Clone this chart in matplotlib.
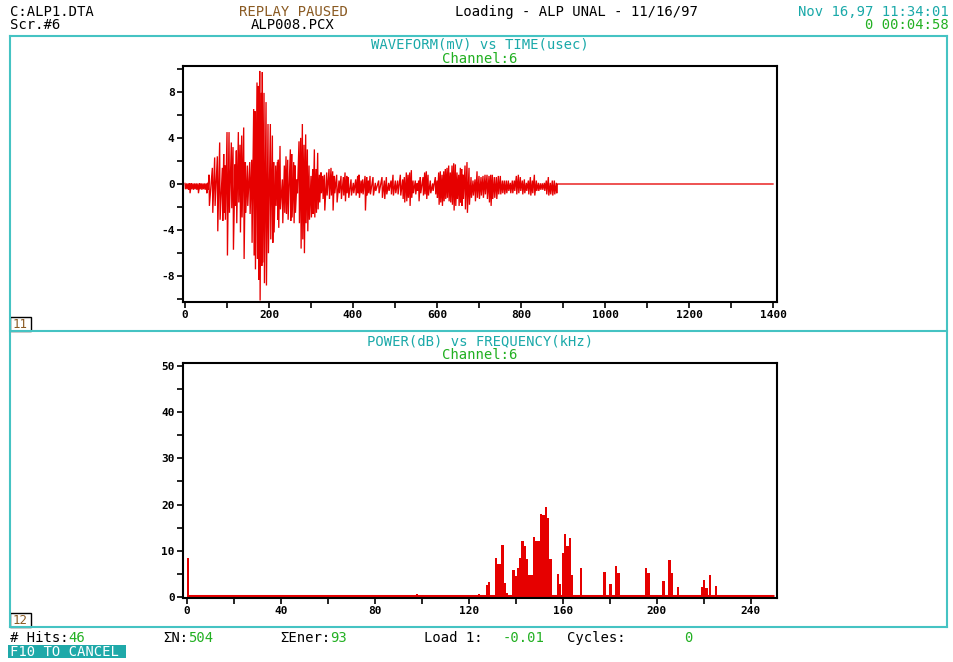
import matplotlib
matplotlib.use("Agg")
import matplotlib.pyplot as plt
import numpy as np
from matplotlib.lines import Line2D
from matplotlib.patches import Rectangle
from matplotlib.ticker import MultipleLocator

MONO = "DejaVu Sans Mono"
RED = "#e60000"
TEAL = "#1aa9a9"
FRAME = "#45c3c3"
GREEN = "#22b022"
BROWN = "#8a5a22"

# ---- waveform: sample time (usec), upper and lower excursion (mV) ----
wave_t = [0, 4, 8, 11, 15, 19, 23, 27, 31, 35, 39, 43, 47, 51, 54,
          57.1, 65.1, 70.6, 77.0, 82.5, 88.9, 92.1, 95.2, 100.0, 104.8,
          110.3, 114.3, 119.1, 122.2, 127.0, 131.0, 134.9, 139.7, 143.7, 148.4,
          154.0, 158.7, 163.5, 166.7, 171.4, 174.6, 177.8, 181.8, 184.1, 188.1,
          192.9, 197.6, 203.2, 208.0, 211.1, 215.9, 219.9,
          222.2, 226.2, 231.8, 236.5, 240.5, 244.5, 250.8, 254.0, 258.7, 261.9,
          266.7, 271.4, 275.4, 279.4, 283.3, 287.3, 291.3, 295.3, 300.0, 304.0,
          308.0, 311.9, 315.9, 319.9, 323.8, 327.8, 331.8, 337.3, 342.9, 347.6,
          351.6, 355.6, 361.1, 366.7, 371.4, 377.0, 381.0, 385.0, 388.9, 395.3,
          400.8, 406.4, 411.1, 414.3, 419.1, 423.0, 428.6, 432.5, 436.5,
          440.5, 447.6, 453.2, 461.1, 469.0, 474.6, 479.4, 484.9, 490.5, 495.2,
          500.8, 506.3, 512.7, 518.3, 522.2, 527.0, 530.9, 534.9, 538.9, 542.9,
          548.4, 552.4, 556.3, 560.3, 566.7, 570.6, 574.6, 578.6, 584.1, 589.7,
          596.0, 600.0, 604.0, 607.9, 611.9, 615.9, 619.8, 623.8, 627.8, 631.7,
          635.7, 639.7, 643.7, 647.6, 651.6, 655.6,
          658.7, 661.9, 666.7, 671.4, 676.2, 681.0, 685.7, 690.5, 695.3, 700.0,
          704.8, 709.5, 714.3, 719.1, 723.8, 727.8, 731.7, 736.5, 741.3, 746.0,
          750.8, 755.6, 760.3, 765.1, 769.9, 774.6, 779.4, 784.1, 788.9, 793.7,
          798.4, 803.2, 808.0, 812.7, 817.5, 822.3, 827.0, 831.8, 836.5, 841.3,
          846.1, 850.8, 855.6, 860.3, 865.1, 869.8, 874.6, 879.4, 884.1]
wave_hi = [0.05, 0.05, 0.05, 0.05, 0.05, 0.05, 0.05, 0.05, 0.05, 0.05, 0.05, 0.05, 0.05, 0.05, 0.1,
           0.8, 1.4, 2.3, 2.4, 3.6, 1.4, 2.6, 1.6, 4.5, 4.5,
           3.6, 3.2, 1.7, 2.9, 4.5, 3.4, 4.2, 4.9, 1.9, 1.6,
           1.9, 2.1, 6.5, 6.3, 8.8, 8.5, 9.8, 7.9, 9.7, 7.9,
           7.1, 5.2, 5.2, 4.2, 1.9, 1.6, 1.9,
           2.1, 3.3, 0.4, 1.6, 2.4, 2.1, 3.0, 2.6, 1.9, 1.6,
           0.4, 3.7, 4.0, 5.2, 3.4, 4.3, 3.0, 1.6, 0.7, 1.3,
           3.0, 1.3, 2.7, 0.8, 1.0, 0.7, 0.8, 1.0, 1.3, 1.4,
           1.1, 0.7, 0.8, 0.3, 0.7, 0.6, 1.0, 0.7, 0.6, 0.4,
           0.1, 0.4, 0.7, 0.8, 0.3, 0.4, 0.7, 0.6, 0.3,
           0.7, 0.6, 0.1, 0.3, 0.6, 0.3, 0.6, 0.1, 0.3, 0.8,
           0.3, 0.3, 0.8, 0.4, 0.6, 1.0, 0.8, 1.0, 1.2, 0.3,
           0.3, 0.05, 0.3, 0.6, 0.6, 1.0, 1.1, 0.8, 0.3, 0.05,
           0.6, 0.3, 1.0, 1.1, 0.8, 1.1, 1.3, 1.4, 1.6, 1.0,
           1.6, 1.8, 1.7, 1.0, 0.8, 1.4,
           1.3, 0.8, 1.6, 1.9, 1.4, 0.6, 0.3, 0.4, 1.1, 0.7,
           0.6, 0.7, 0.8, 0.8, 0.7, 0.8, 0.8, 0.6, 0.6, 0.7,
           0.7, 0.3, 0.3, 0.3, 0.3, 0.1, 0.3, 0.3, 0.7, 0.8,
           0.6, 0.3, 0.4, 0.1, 0.3, 0.6, 0.3, 0.8, 0.3, 0.1,
           0.06, 0.06, 0.1, 0.3, 0.6, 0.1, 0.3, 0.3, 0.1]
wave_lo = [-0.45, -0.45, -0.5, -0.8, -0.45, -0.5, -0.45, -0.5, -0.8, -0.45, -0.5, -0.45, -0.5, -0.8, -0.5,
           -1.9, -2.5, -1.9, -4.1, -3.1, -3.2, -2.5, -3.1, -6.2, -2.5,
           -2.1, -5.7, -1.9, -3.4, -1.6, -4.2, -2.9, -6.5, -2.5, -1.9,
           -2.6, -5.1, -6.2, -7.4, -6.5, -8.3, -10.1, -7.1, -6.8, -8.6,
           -8.8, -6.0, -4.8, -5.1, -4.2, -1.9, -3.1,
           -3.8, -2.2, -3.4, -2.5, -2.6, -3.1, -3.2, -2.9, -3.4, -2.5,
           -0.8, -3.4, -5.6, -4.8, -6.0, -3.4, -4.1, -3.1, -2.9, -2.6,
           -2.9, -2.5, -2.2, -1.6, -0.8, -1.3, -2.3, -1.0, -1.3, -1.0,
           -2.3, -0.8, -1.6, -0.8, -1.3, -1.0, -1.5, -0.8, -1.2, -1.0,
           -0.8, -1.0, -0.8, -1.2, -0.8, -0.9, -2.3, -1.0, -0.8,
           -0.9, -1.0, -0.6, -0.8, -1.2, -1.3, -0.9, -0.6, -0.9, -1.0,
           -0.8, -0.9, -1.0, -1.3, -1.6, -1.5, -1.2, -1.9, -1.2, -0.8,
           -0.9, -0.6, -1.5, -0.8, -1.0, -0.9, -1.3, -1.0, -0.8, -0.6,
           -0.9, -1.2, -1.8, -1.6, -1.9, -1.5, -1.3, -1.2, -1.5, -1.6,
           -1.8, -2.3, -1.9, -1.3, -1.9, -1.6,
           -1.9, -1.3, -2.2, -2.5, -1.8, -1.2, -1.0, -1.5, -1.2, -1.3,
           -1.0, -1.2, -0.9, -1.3, -1.6, -1.9, -1.3, -1.2, -1.3, -0.9,
           -0.9, -0.8, -0.9, -0.8, -0.6, -0.8, -0.8, -0.6, -0.9, -0.8,
           -0.6, -0.9, -0.8, -0.6, -0.9, -1.0, -0.8, -1.0, -0.6, -0.6,
           -0.5, -0.5, -0.6, -0.9, -1.0, -0.9, -1.0, -0.9, -0.8]
wave_end_t = 1400

# ---- power spectrum: bin left edge (kHz) and level (dB) ----
spec_f = [0.0, 97.5, 123.9, 125.2, 127.2, 128.2, 131.1, 132.0, 133.0, 133.9,
          134.7, 135.7, 136.6, 138.6, 139.6, 140.6, 141.5, 142.4, 143.4, 144.4,
          145.4, 146.4, 147.4, 148.4, 149.3, 150.3, 151.3, 152.3, 153.3, 154.3,
          157.4, 158.4, 159.5, 160.5, 161.5, 162.5, 163.5, 167.2, 177.3, 179.8,
          182.2, 183.2, 195.0, 196.0, 202.4, 205.0, 206.0, 208.5, 218.7, 219.7,
          220.7, 222.2, 224.8]
spec_db = [8.3, 0.5, 0.5, 0.4, 2.5, 3.1, 8.5, 7.0, 7.0, 11.2,
           2.9, 0.9, 0.4, 5.9, 4.5, 6.2, 8.3, 12.1, 10.9, 8.2,
           4.7, 4.7, 12.9, 12.1, 12.1, 17.9, 17.7, 19.4, 17.0, 8.2,
           4.9, 2.7, 9.4, 13.5, 10.9, 12.7, 4.7, 6.2, 5.4, 2.7,
           6.7, 5.1, 6.2, 5.1, 3.3, 8.0, 5.1, 2.0, 2.0, 3.6,
           1.8, 4.7, 2.3]
spec_end_f = 250

W, H = 954, 662
fig = plt.figure(figsize=(W / 100, H / 100), dpi=100)
fig.patch.set_facecolor("white")


def fx(x):
    return x / W


def fy(y):
    return 1 - y / H


def ftext(x, y, s, color="black", ha="left", size=10, **kw):
    fig.text(fx(x), fy(y), s, color=color, ha=ha, va="center",
             family=MONO, fontsize=size, **kw)


def add_axes(top, bottom, left=183, right=777):
    ax = fig.add_axes([fx(left), fy(bottom), (right - left) / W, (bottom - top) / H])
    for sp in ax.spines.values():
        sp.set_linewidth(1.5)
        sp.set_color("black")
    ax.tick_params(which="both", direction="out", length=4, width=1.2,
                   labelsize=8, pad=2)
    return ax


def label_ticks(ax, xt, yt):
    ax.set_xticks(xt)
    ax.set_xticklabels([str(v) for v in xt], family=MONO, fontsize=8, weight="bold")
    ax.set_yticks(yt)
    ax.set_yticklabels([str(v) for v in yt], family=MONO, fontsize=8, weight="bold")


# ---- header ----
ftext(10, 12, "C:ALP1.DTA")
ftext(10, 25, "Scr.#6")
ftext(293, 12, "REPLAY PAUSED", color=BROWN, ha="center")
ftext(293, 25, "ALP008.PCX", ha="center")
ftext(576, 12, "Loading - ALP UNAL - 11/16/97", ha="center")
ftext(949, 12, "Nov 16,97 11:34:01", color=TEAL, ha="right")
ftext(949, 25, "0 00:04:58", color=GREEN, ha="right")

# ---- panel frames ----
for (x0, y0, x1, y1) in [(10, 36, 947, 36), (10, 331, 947, 331), (10, 627, 947, 627),
                         (10, 36, 10, 627), (947, 36, 947, 627)]:
    fig.add_artist(Line2D([fx(x0), fx(x1)], [fy(y0), fy(y1)], color=FRAME,
                          lw=1.5, transform=fig.transFigure))

for label, ybot in [("11", 331), ("12", 627)]:
    fig.add_artist(Rectangle((fx(10), fy(ybot)), 21 / W, 14 / H, fill=False,
                             edgecolor="black", lw=1.0, transform=fig.transFigure))
    ftext(20.5, ybot - 6.5, label, color=BROWN, ha="center", size=9)

ftext(480, 44, "WAVEFORM(mV) vs TIME(usec)", color=TEAL, ha="center")
ftext(480, 59, "Channel:6", color=GREEN, ha="center")
ftext(480, 341, "POWER(dB) vs FREQUENCY(kHz)", color=TEAL, ha="center")
ftext(480, 355, "Channel:6", color=GREEN, ha="center")

# ---- waveform ----
ax1 = add_axes(66, 302)
xs, ys = [], []
for t, hi, lo in zip(wave_t, wave_hi, wave_lo):
    xs += [t, t + 1.0]
    ys += [hi, lo]
xs += [wave_t[-1] + 2.0, wave_end_t]
ys += [0.0, 0.0]
ax1.plot(xs, ys, color=RED, lw=0.95, solid_joinstyle="miter")
ax1.set_xlim(-4.8, 1409.5)
ax1.set_ylim(-10.23, 10.23)
ax1.xaxis.set_minor_locator(MultipleLocator(100))
ax1.yaxis.set_minor_locator(MultipleLocator(2))
label_ticks(ax1, list(range(0, 1401, 200)), [-8, -4, 0, 4, 8])

# ---- spectrum ----
ax2 = add_axes(363, 598)
ax2.plot([0, spec_end_f], [0.2, 0.2], color=RED, lw=2.2, solid_capstyle="butt")
ax2.bar(spec_f, spec_db, width=1.0, align="edge", color=RED, edgecolor="none")
ax2.set_xlim(-1.6, 251.2)
ax2.set_ylim(-0.28, 50.7)
ax2.xaxis.set_minor_locator(MultipleLocator(20))
ax2.yaxis.set_minor_locator(MultipleLocator(5))
label_ticks(ax2, list(range(0, 241, 40)), list(range(0, 51, 10)))

# ---- status bar ----
status = [(10, "# Hits:", "46"), (163, "\u03a3N:", "504"), (280, "\u03a3Ener:", "93")]
for x, key, val in status:
    ftext(x, 638, key)
    ftext(x + 8.4 * len(key), 638, val, color=GREEN)
ftext(424, 638, "Load 1:")
ftext(503, 638, "-0.01", color=GREEN)
ftext(567, 638, "Cycles:")
ftext(684, 638, "0", color=GREEN)
fig.add_artist(Rectangle((fx(8), fy(658)), 118 / W, 13 / H, facecolor="#1fa9a9",
                         edgecolor="none", transform=fig.transFigure))
ftext(10, 651.5, "F10 TO CANCEL", color="white")

fig.savefig("out.png", dpi=100, facecolor="white")
